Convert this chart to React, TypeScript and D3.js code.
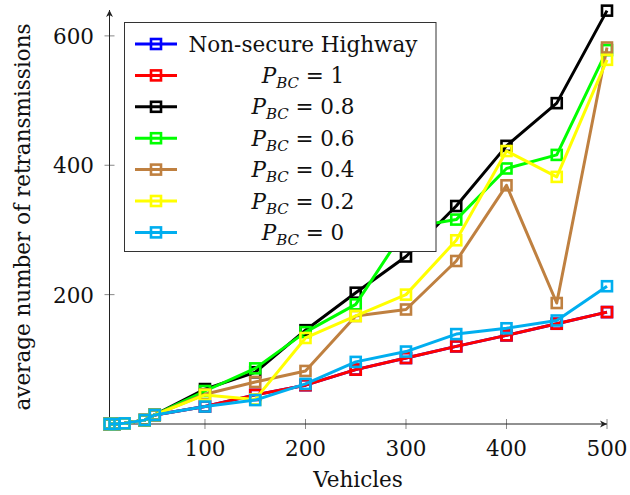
import React from 'react';
import * as d3 from 'd3';

// vehicles on the x axis
const vehicles = [5, 10, 20, 40, 50, 100, 150, 200, 250, 300, 350, 400, 450, 500];

// average number of retransmissions per series
const nonSecure = [0, 0, 1, 6, 14, 27, 45, 60, 84, 102, 120, 137, 155, 173];
const pbc1 = [0, 0, 1, 6, 14, 27, 45, 60, 84, 102, 120, 137, 155, 173];
const pbc08 = [0, 0, 1, 6, 14, 54, 80, 145, 203, 259, 337, 430, 496, 639];
const pbc06 = [0, 0, 1, 6, 14, 51, 86, 142, 185, 303, 316, 395, 416, 578];
const pbc04 = [0, 0, 1, 6, 14, 46, 65, 82, 167, 177, 252, 369, 187, 582];
const pbc02 = [0, 0, 1, 6, 14, 45, 38, 133, 167, 200, 284, 422, 382, 563];
const pbc0 = [0, 0, 1, 6, 14, 27, 37, 62, 96, 112, 139, 148, 160, 213];

const seriesLabels = ['Non-secure Highway', '1', '0.8', '0.6', '0.4', '0.2', '0'];
const seriesColors = ['#0000ff', '#ff0000', '#000000', '#00ff00', '#bf8040', '#ffff00', '#00aeef'];
const seriesValues = [nonSecure, pbc1, pbc08, pbc06, pbc04, pbc02, pbc0];

const xTicks = [100, 200, 300, 400, 500];
const yTicks = [200, 400, 600];

const FONT = "'DejaVu Serif', serif";
const FS = 21.5;

const App = () => {
  const width = 630;
  const height = 495;

  const x = d3.scaleLinear().domain([5, 500]).range([109.5, 607]);
  const y = d3.scaleLinear().domain([0, 640]).range([424, 10]);

  const line = d3
    .line<number>()
    .x((d, i) => x(vehicles[i]))
    .y((d) => y(d));

  const x0 = x.range()[0];
  const x1 = x.range()[1];
  const y0 = y.range()[0];
  const y1 = y.range()[1];

  const mark = 10;

  // legend placement
  const lgX = 124.5;
  const lgY = 22.5;
  const lgW = 311.5;
  const lgH = 229;
  const rowY = (i) => 44 + i * 31.4;

  return (
    <svg
      width={width}
      height={height}
      style={{ position: 'absolute', left: 0, top: 0, background: '#fff' }}
      fontFamily={FONT}
    >
      {/* ticks */}
      {xTicks.map((t) => (
        <line key={'xt' + t} x1={x(t)} x2={x(t)} y1={y0 - 5} y2={y0 + 5} stroke="#888" strokeWidth={1} />
      ))}
      {yTicks.map((t) => (
        <line key={'yt' + t} x1={x0 - 5} x2={x0 + 5} y1={y(t)} y2={y(t)} stroke="#888" strokeWidth={1} />
      ))}

      {/* axes with arrows */}
      <line x1={x0} x2={x1} y1={y0} y2={y0} stroke="#222" strokeWidth={1} />
      <line x1={x0} x2={x0} y1={y0} y2={y1} stroke="#222" strokeWidth={1} />
      <path
        d={`M${x1},${y0} L${x1 - 7},${y0 - 3.5} L${x1 - 5},${y0} L${x1 - 7},${y0 + 3.5} Z`}
        fill="#222"
      />
      <path
        d={`M${x0},${y1} L${x0 - 3.5},${y1 + 7} L${x0},${y1 + 5} L${x0 + 3.5},${y1 + 7} Z`}
        fill="#222"
      />

      {/* tick labels */}
      {xTicks.map((t) => (
        <text key={'xl' + t} x={x(t)} y={456} textAnchor="middle" fontSize={FS} fill="#111">
          {t}
        </text>
      ))}
      {yTicks.map((t) => (
        <text key={'yl' + t} x={94} y={y(t) + 8} textAnchor="end" fontSize={FS} fill="#111">
          {t}
        </text>
      ))}

      {/* axis titles */}
      <text x={358} y={487} textAnchor="middle" fontSize={FS} fill="#111">
        Vehicles
      </text>
      <text
        transform="translate(30,217) rotate(-90)"
        textAnchor="middle"
        fontSize={FS}
        fill="#111"
      >
        average number of retransmissions
      </text>

      {/* series */}
      {seriesValues.map((vals, si) => (
        <g key={'s' + si}>
          <path d={line(vals)} fill="none" stroke={seriesColors[si]} strokeWidth={3} strokeLinejoin="round" />
          {vals.map((v, i) => (
            <rect
              key={i}
              x={x(vehicles[i]) - mark / 2}
              y={y(v) - mark / 2}
              width={mark}
              height={mark}
              fill="none"
              stroke={seriesColors[si]}
              strokeWidth={2.6}
            />
          ))}
        </g>
      ))}

      {/* legend */}
      <rect x={lgX} y={lgY} width={lgW} height={lgH} fill="#fff" stroke="#333" strokeWidth={1} />
      {seriesLabels.map((lab, i) => (
        <g key={'lg' + i}>
          <line x1={135} x2={177} y1={rowY(i)} y2={rowY(i)} stroke={seriesColors[i]} strokeWidth={3} />
          <rect
            x={156 - mark / 2}
            y={rowY(i) - mark / 2}
            width={mark}
            height={mark}
            fill="none"
            stroke={seriesColors[i]}
            strokeWidth={2.6}
          />
          {i === 0 ? (
            <text x={303} y={rowY(i) + 7.5} textAnchor="middle" fontSize={FS} fill="#111">
              {lab}
            </text>
          ) : (
            <text x={303} y={rowY(i) + 7.5} textAnchor="middle" fontSize={FS} fill="#111">
              <tspan fontStyle="italic">P</tspan>
              <tspan fontStyle="italic" fontSize={15} dy={5}>
                BC
              </tspan>
              <tspan dy={-5}>{' = ' + lab}</tspan>
            </text>
          )}
        </g>
      ))}
    </svg>
  );
};

export default App;
